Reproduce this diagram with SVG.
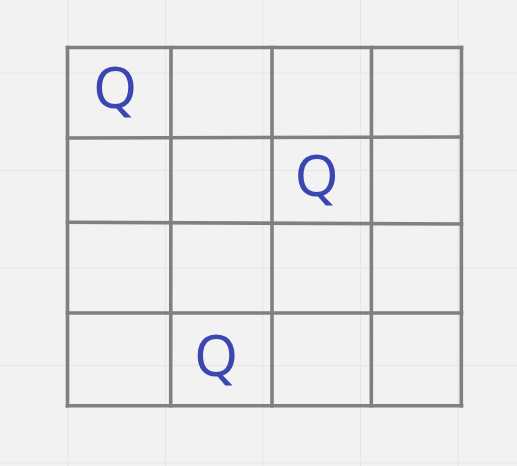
<svg xmlns="http://www.w3.org/2000/svg" width="517" height="466" viewBox="0 0 517 466">
  <style>
    .bg { fill: #f2f2f2; }
    .guide { stroke: #e6e6e6; stroke-width: 1; fill: none; }
    .board { stroke: #808080; stroke-width: 3.6; fill: none; stroke-linecap: square; }
    .queen { font-family: "Noto Sans", "Open Sans", sans-serif; font-size: 56px; fill: #3c46b0; text-anchor: middle; }
  </style>
  <rect class="bg" x="0" y="0" width="517" height="466"/>
  <g id="background-grid">
    <line class="guide" x1="68" y1="0" x2="68" y2="466"/>
    <line class="guide" x1="165.5" y1="0" x2="165.5" y2="466"/>
    <line class="guide" x1="263" y1="0" x2="263" y2="466"/>
    <line class="guide" x1="360.5" y1="0" x2="360.5" y2="466"/>
    <line class="guide" x1="458" y1="0" x2="458" y2="466"/>
    <line class="guide" x1="0" y1="73" x2="517" y2="73"/>
    <line class="guide" x1="0" y1="170.5" x2="517" y2="170.5"/>
    <line class="guide" x1="0" y1="268" x2="517" y2="268"/>
    <line class="guide" x1="0" y1="365.5" x2="517" y2="365.5"/>
    <line class="guide" x1="0" y1="463" x2="517" y2="463"/>
  </g>
  <g id="board">
    <line class="board" x1="67.5" y1="47.5" x2="461.5" y2="47.5"/>
    <line class="board" x1="67.5" y1="138" x2="461.5" y2="137"/>
    <line class="board" x1="67.5" y1="222.3" x2="461.5" y2="224"/>
    <line class="board" x1="67.5" y1="313" x2="461.5" y2="313"/>
    <line class="board" x1="67.5" y1="405.8" x2="461.5" y2="405.8"/>
    <line class="board" x1="67.5" y1="47.5" x2="67.5" y2="405.8"/>
    <line class="board" x1="171" y1="47.5" x2="170.7" y2="405.8"/>
    <line class="board" x1="272" y1="47.5" x2="272" y2="405.8"/>
    <line class="board" x1="371.5" y1="47.5" x2="371.3" y2="405.8"/>
    <line class="board" x1="461.5" y1="47.5" x2="461.3" y2="405.8"/>
  </g>
  <g id="queen-1"><text class="queen" x="115" y="108">Q</text></g>
  <g id="queen-2"><text class="queen" x="316.7" y="196">Q</text></g>
  <g id="queen-3"><text class="queen" x="216" y="376">Q</text></g>
</svg>
